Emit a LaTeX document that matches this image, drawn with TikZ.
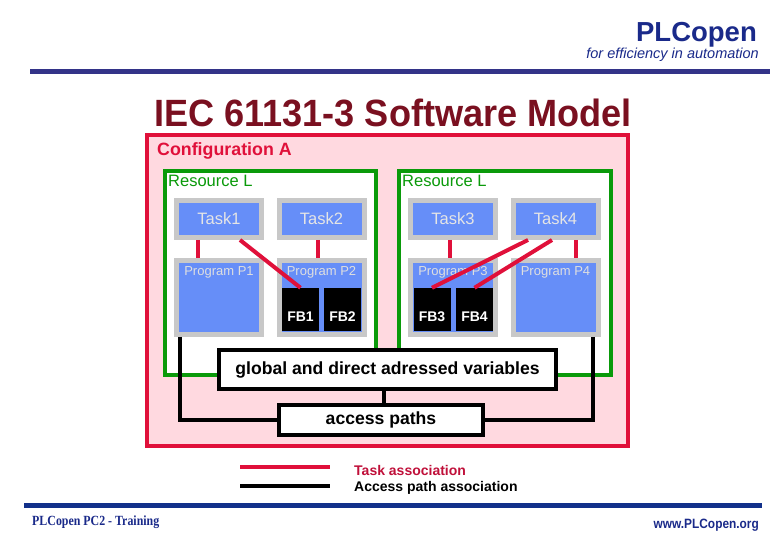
\documentclass[tikz,border=0pt]{standalone}
\usepackage{fontspec}
\setmainfont{Liberation Sans}
\newfontfamily\serifnarrow[FakeStretch=0.85]{Liberation Serif}
\newfontfamily\sansnarrow[FakeStretch=0.88]{Liberation Sans}
\newfontfamily\titlefont[FakeStretch=0.95]{Liberation Sans}
\usetikzlibrary{calc}
\definecolor{cfgred}{HTML}{E0103A}
\definecolor{cfgpink}{HTML}{FFD9E0}
\definecolor{resgreen}{HTML}{0A9A0A}
\definecolor{boxgray}{HTML}{C8C8C8}
\definecolor{boxblue}{HTML}{668EF8}
\definecolor{titlered}{HTML}{7A1020}
\definecolor{headblue}{HTML}{1A2A8A}
\definecolor{lineblue}{HTML}{333388}
\definecolor{footblue}{HTML}{12308A}
\definecolor{legred}{HTML}{C0103A}
\tikzset{
  taskbox/.style={draw=boxgray, line width=5pt, fill=boxblue, minimum width=85pt, minimum height=37pt, inner sep=0pt, text=gray!20, font=\fontsize{16.5}{18}\selectfont},
  progbox/.style={draw=boxgray, line width=5pt, fill=boxblue, minimum width=85pt, minimum height=74pt, inner sep=0pt},
  proglabel/.style={text=gray!25, font=\fontsize{13}{15}\selectfont, inner sep=0pt},
  fbbox/.style={fill=black, minimum width=37pt, minimum height=43pt, inner sep=0pt},
  fblabel/.style={text=white, font=\bfseries\fontsize{14}{16}\selectfont, inner sep=0pt},
  taskline/.style={draw=cfgred, line width=4pt},
  accline/.style={draw=black, line width=4pt},
  varbox/.style={draw=black, line width=4pt, fill=white, inner sep=0pt},
}
\begin{document}
\begin{tikzpicture}[x=1pt,y=-1pt]
\useasboundingbox (0,0) rectangle (780,540);
\fill[white] (0,0) rectangle (780,540);
% header
\node[anchor=east, text=headblue, font=\bfseries\fontsize{27.5}{30}\selectfont, inner sep=0pt] (plc) at (757,35) {PLCopen};
\node[anchor=east, text=headblue, font=\itshape\fontsize{14.5}{16}\selectfont, inner sep=0pt] (tag) at (759,55) {for efficiency in automation};
\draw[lineblue, line width=5pt] (30,72) -- (770,72);
\node[text=titlered, font=\titlefont\bfseries\fontsize{38}{42}\selectfont, inner sep=0pt] (title) at (393,113) {IEC 61131-3 Software Model};
% configuration
\draw[cfgred, fill=cfgpink, line width=4pt] (147,135) rectangle (628,446);
\node[anchor=west, text=cfgred, font=\bfseries\fontsize{17.8}{20}\selectfont, inner sep=0pt] (cfg) at (157,151) {Configuration A};
% resources
\draw[resgreen, fill=white, line width=3.5pt] (165,171) rectangle (376,375);
\draw[resgreen, fill=white, line width=3.5pt] (399,171) rectangle (611,375);
\node[anchor=west, text=resgreen, font=\fontsize{16.5}{18}\selectfont, inner sep=0pt] (resA) at (168,181) {Resource L};
\node[anchor=west, text=resgreen, font=\fontsize{16.5}{18}\selectfont, inner sep=0pt] (resB) at (402,181) {Resource L};
% tasks
\node[taskbox] (t1) at (219,219) {Task1};
\node[taskbox] (t2) at (321.5,219) {Task2};
\node[taskbox] (t3) at (453,219) {Task3};
\node[taskbox] (t4) at (555.5,219) {Task4};
% programs
\node[progbox] (p1) at (219,297.5) {};
\node[progbox] (p2) at (321.5,297.5) {};
\node[progbox] (p3) at (453,297.5) {};
\node[progbox] (p4) at (555.5,297.5) {};
\node[proglabel] (lp1) at (219,272) {Program P1};
\node[proglabel] (lp2) at (321.5,272) {Program P2};
\node[proglabel] (lp3) at (453,272) {Program P3};
\node[proglabel] (lp4) at (555.5,272) {Program P4};
% function blocks
\node[fbbox] (fb1) at (300.5,309.5) {};
\node[fbbox] (fb2) at (342.5,309.5) {};
\node[fbbox] (fb3) at (432,309.5) {};
\node[fbbox] (fb4) at (474.5,309.5) {};
\node[fblabel] (lfb1) at (300.5,317) {FB1};
\node[fblabel] (lfb2) at (342.5,317) {FB2};
\node[fblabel] (lfb3) at (432,317) {FB3};
\node[fblabel] (lfb4) at (474.5,317) {FB4};
% task associations
\draw[taskline] ([xshift=-21pt]t1.south) -- ([xshift=-21pt]p1.north);
\draw[taskline] ([xshift=21pt]t1.south) -- (fb1.north);
\draw[taskline] ([xshift=-3.5pt]t2.south) -- ([xshift=-3.5pt]p2.north);
\draw[taskline] ([xshift=-3pt]t3.south) -- ([xshift=-3pt]p3.north);
\draw[taskline] ([xshift=-27.5pt]t4.south) -- (fb3.north);
\draw[taskline] ([xshift=-3.5pt]t4.south) -- (fb4.north);
\draw[taskline] ([xshift=20.5pt]t4.south) -- ([xshift=20.5pt]p4.north);
% variables and access paths
\node[varbox, minimum width=337pt, minimum height=39pt, font=\bfseries\fontsize{17.6}{20}\selectfont] (gv) at (387.5,369.5) {global and direct adressed variables};
\node[varbox, minimum width=204pt, minimum height=30pt, font=\bfseries\fontsize{17.6}{20}\selectfont] (ap) at (381,420) {access paths};
\draw[accline] ([xshift=-39pt]p1.south) |- (ap.west);
\draw[accline] ([xshift=37.5pt]p4.south) |- (ap.east);
\draw[accline] ([xshift=-3.5pt]gv.south) -- ([xshift=-3.5pt]gv.south |- ap.north);
% legend
\coordinate (lr1) at (240,467);
\coordinate (lr2) at (330,467);
\coordinate (lb1) at (240,486);
\coordinate (lb2) at (330,486);
\draw[taskline] (lr1) -- (lr2);
\draw[accline] (lb1) -- (lb2);
\node[anchor=west, text=legred, font=\bfseries\fontsize{14}{16}\selectfont, inner sep=0pt] (leg1) at (354,470) {Task association};
\node[anchor=west, text=black, font=\bfseries\fontsize{14}{16}\selectfont, inner sep=0pt] (leg2) at (354,488) {Access path association};
% footer
\draw[footblue, line width=5pt] (24,505) -- (762,505);
\node[anchor=west, text=headblue, font=\serifnarrow\bfseries\fontsize{14}{16}\selectfont, inner sep=0pt] (foot1) at (32,522) {PLCopen PC2 - Training};
\node[anchor=east, text=headblue, font=\sansnarrow\bfseries\fontsize{13.5}{15}\selectfont, inner sep=0pt] (foot2) at (759,525) {www.PLCopen.org};
\end{tikzpicture}
\end{document}
